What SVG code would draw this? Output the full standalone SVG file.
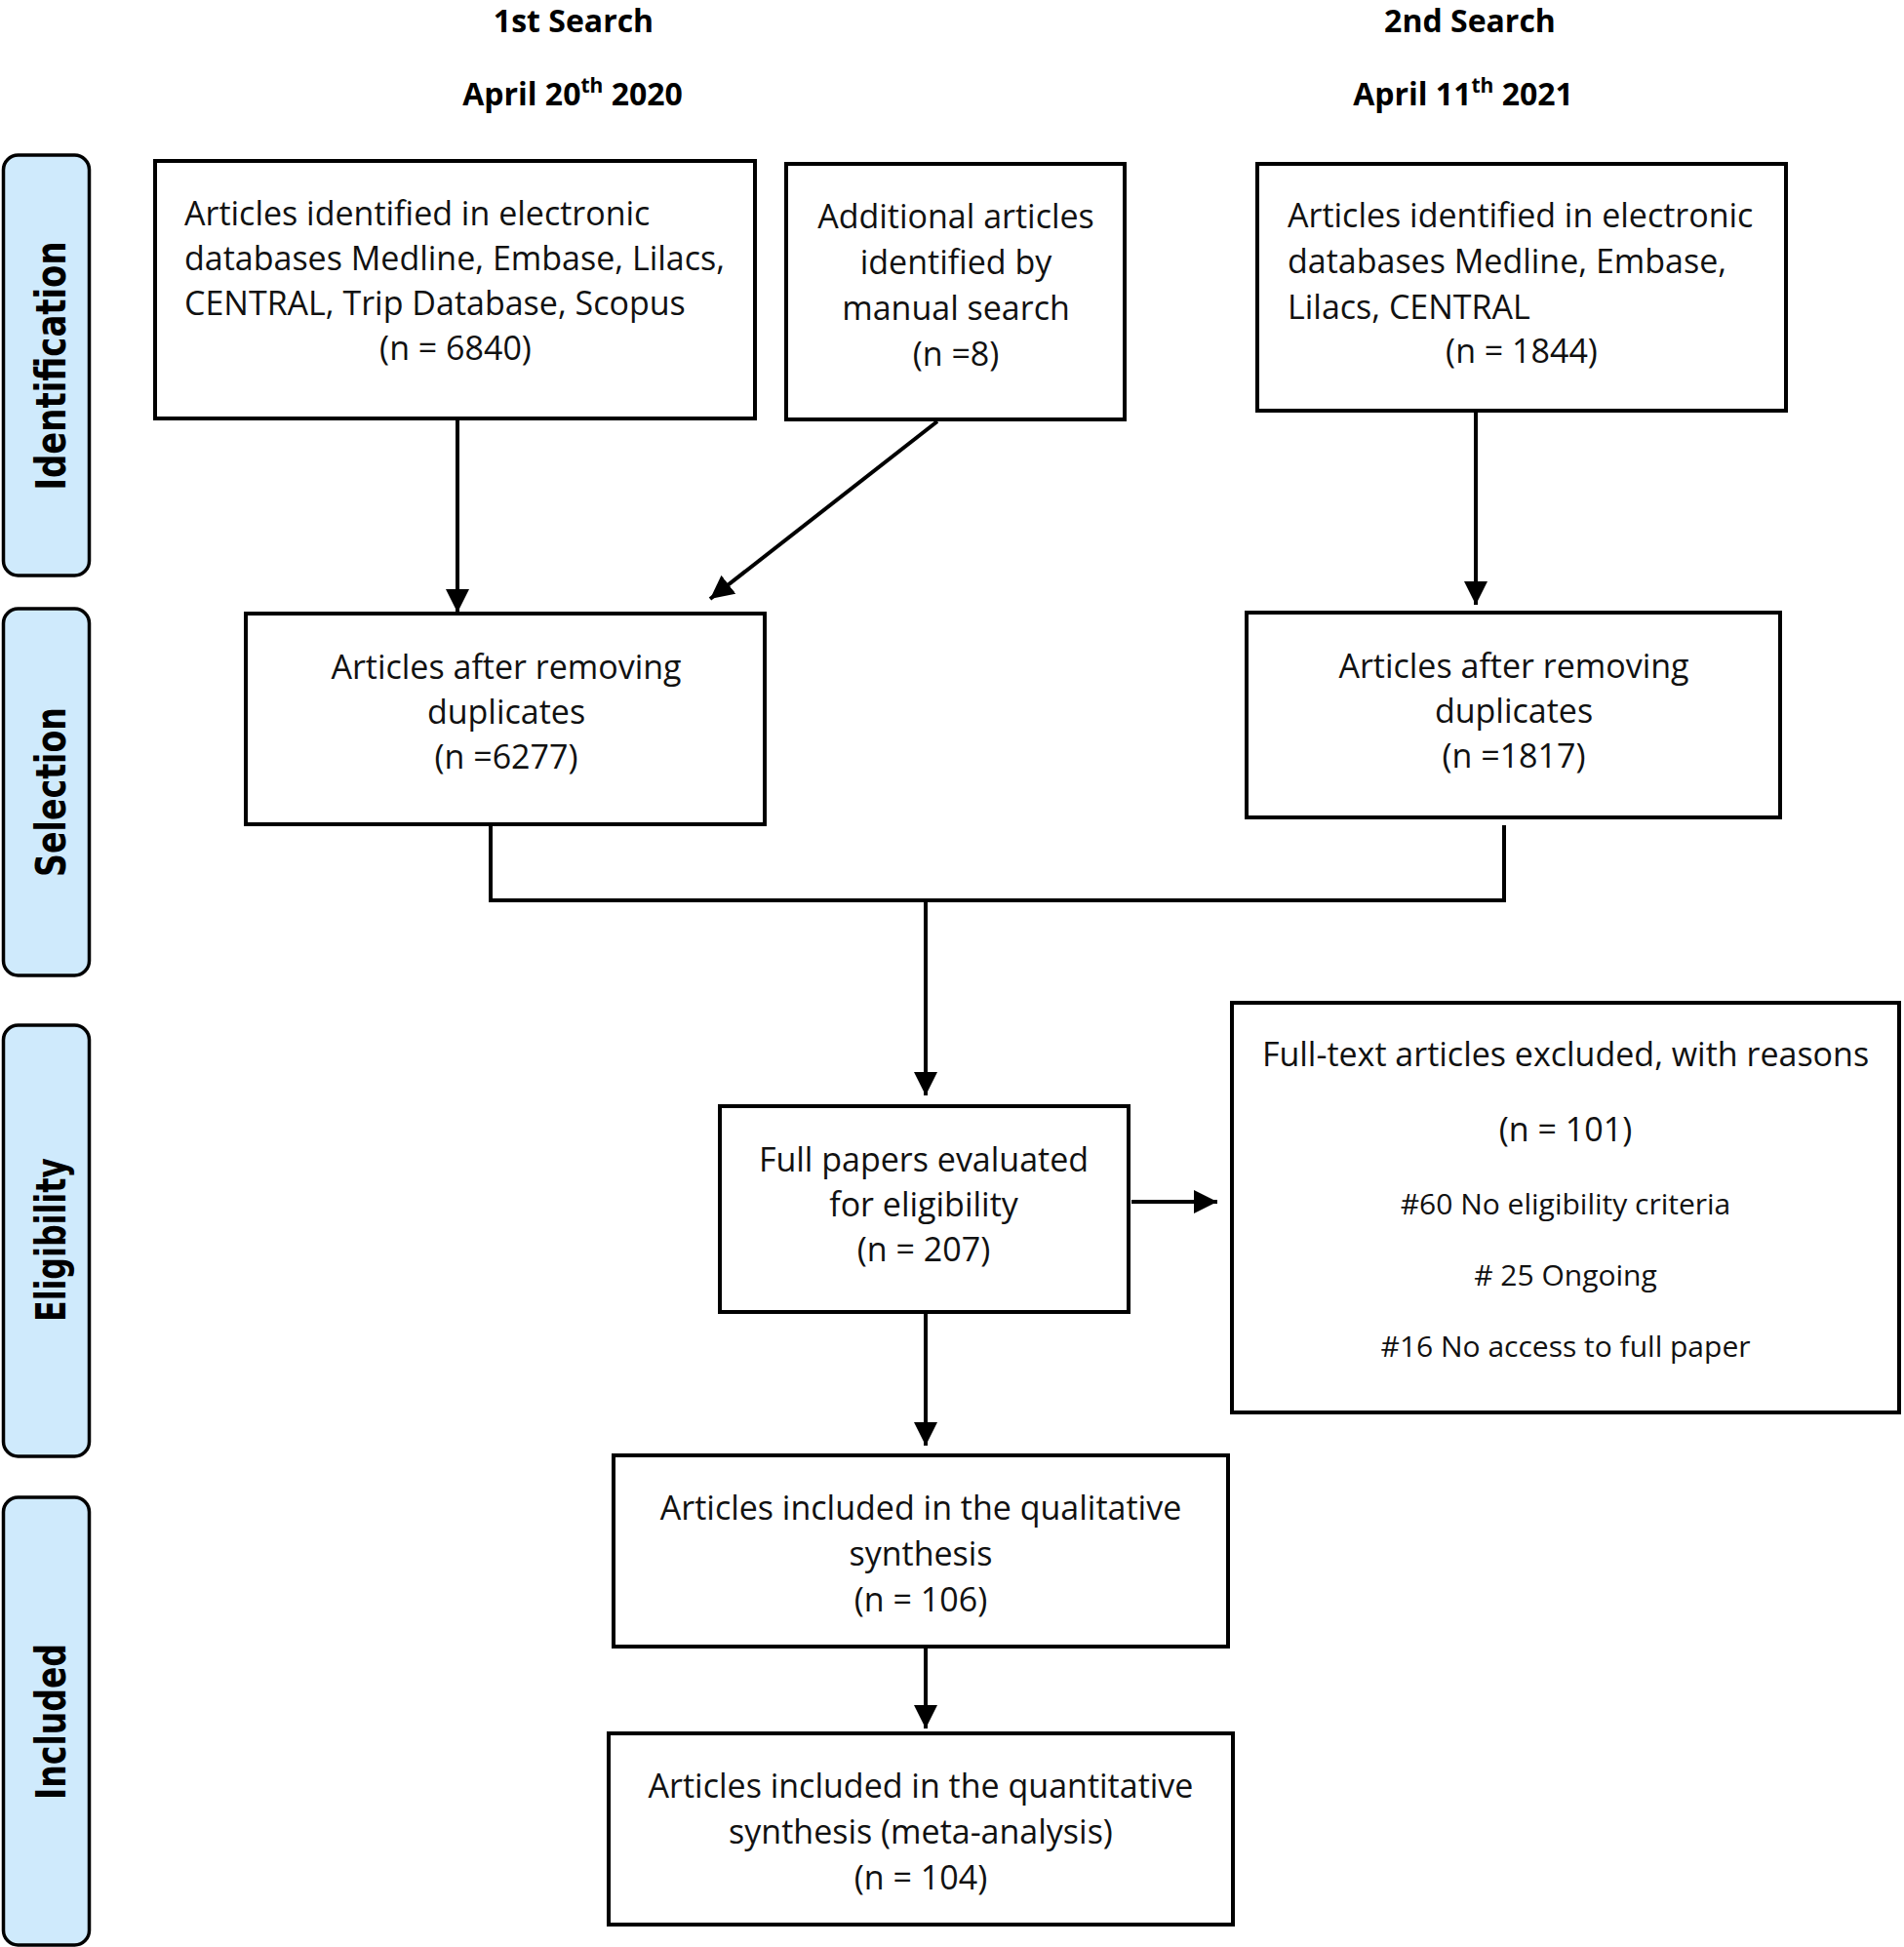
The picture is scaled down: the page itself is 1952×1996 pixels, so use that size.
<svg xmlns="http://www.w3.org/2000/svg" width="1952" height="1996" viewBox="0 0 1952 1996">
<defs>
<style>
.box{fill:#fff;stroke:#000;stroke-width:4}
.lane{fill:#cfeafc;stroke:#000;stroke-width:3.5}
.t{font-family:"Open Sans","Noto Sans",sans-serif;font-size:34px;fill:#111}
.c{text-anchor:middle}
.s{font-size:30px}
.h{font-family:"Open Sans","Noto Sans",sans-serif;font-size:32px;font-weight:bold;fill:#000;text-anchor:middle}
.lt{font-family:"DejaVu Sans",Verdana,sans-serif;font-size:42px;font-weight:bold;fill:#000;text-anchor:middle}
.con{fill:none;stroke:#000;stroke-width:4}
</style>
<marker id="ah" markerUnits="userSpaceOnUse" markerWidth="24" markerHeight="24" refX="24" refY="12" orient="auto" viewBox="0 0 24 24">
<path d="M0,0 L24,12 L0,24 z" fill="#000"/>
</marker>
</defs>
<rect width="1952" height="1996" fill="#fff"/>

<g id="headers">
<text class="h" x="588" y="33">1st Search</text>
<text class="h" x="587" y="108">April 20<tspan font-size="21" dy="-13">th</tspan><tspan dy="13"> 2020</tspan></text>
<text class="h" x="1507" y="33">2nd Search</text>
<text class="h" x="1500" y="108">April 11<tspan font-size="21" dy="-13">th</tspan><tspan dy="13"> 2021</tspan></text>
</g>

<g id="lane-identification">
<rect class="lane" x="3.5" y="159" width="88" height="431" rx="15"/>
<text class="lt" transform="translate(67,375) rotate(-90)" textLength="255" lengthAdjust="spacingAndGlyphs">Identification</text>
</g>
<g id="lane-selection">
<rect class="lane" x="3.5" y="624" width="88" height="376" rx="15"/>
<text class="lt" transform="translate(67,812) rotate(-90)" textLength="174" lengthAdjust="spacingAndGlyphs">Selection</text>
</g>
<g id="lane-eligibility">
<rect class="lane" x="3.5" y="1051" width="88" height="442" rx="15"/>
<text class="lt" transform="translate(67,1271) rotate(-90)" textLength="168" lengthAdjust="spacingAndGlyphs">Eligibility</text>
</g>
<g id="lane-included">
<rect class="lane" x="3.5" y="1535" width="88" height="459" rx="15"/>
<text class="lt" transform="translate(67,1765) rotate(-90)" textLength="160" lengthAdjust="spacingAndGlyphs">Included</text>
</g>

<g id="connectors">
<line class="con" x1="469" y1="429" x2="469" y2="628" marker-end="url(#ah)"/>
<line class="con" x1="961" y1="432" x2="728" y2="614" marker-end="url(#ah)"/>
<line class="con" x1="1513" y1="421" x2="1513" y2="620" marker-end="url(#ah)"/>
<polyline class="con" points="503,845 503,923 1542,923 1542,846"/>
<line class="con" x1="949" y1="923" x2="949" y2="1123" marker-end="url(#ah)"/>
<line class="con" x1="1160" y1="1232" x2="1248" y2="1232" marker-end="url(#ah)"/>
<line class="con" x1="949" y1="1345" x2="949" y2="1482" marker-end="url(#ah)"/>
<line class="con" x1="949" y1="1688" x2="949" y2="1772" marker-end="url(#ah)"/>
</g>

<g id="box-identified-1">
<rect class="box" x="159" y="165" width="615" height="264"/>
<text class="t" x="189" y="231">Articles identified in electronic</text>
<text class="t" x="189" y="277">databases Medline, Embase, Lilacs,</text>
<text class="t" x="189" y="323">CENTRAL, Trip Database, Scopus</text>
<text class="t c" x="467" y="369">(n = 6840)</text>
</g>

<g id="box-additional">
<rect class="box" x="806" y="168" width="347" height="262"/>
<text class="t c" x="980" y="234">Additional articles</text>
<text class="t c" x="980" y="281">identified by</text>
<text class="t c" x="980" y="328">manual search</text>
<text class="t c" x="980" y="375">(n =8)</text>
</g>

<g id="box-identified-2">
<rect class="box" x="1289" y="168" width="542" height="253"/>
<text class="t" x="1320" y="233">Articles identified in electronic</text>
<text class="t" x="1320" y="280">databases Medline, Embase,</text>
<text class="t" x="1320" y="327">Lilacs, CENTRAL</text>
<text class="t c" x="1560" y="372">(n = 1844)</text>
</g>

<g id="box-dedup-1">
<rect class="box" x="252" y="629" width="532" height="216"/>
<text class="t c" x="519" y="696">Articles after removing</text>
<text class="t c" x="519" y="742">duplicates</text>
<text class="t c" x="519" y="788">(n =6277)</text>
</g>

<g id="box-dedup-2">
<rect class="box" x="1278" y="628" width="547" height="210"/>
<text class="t c" x="1552" y="695">Articles after removing</text>
<text class="t c" x="1552" y="741">duplicates</text>
<text class="t c" x="1552" y="787">(n =1817)</text>
</g>

<g id="box-fullpapers">
<rect class="box" x="738" y="1134" width="419" height="211"/>
<text class="t c" x="947" y="1201">Full papers evaluated</text>
<text class="t c" x="947" y="1247">for eligibility</text>
<text class="t c" x="947" y="1293">(n = 207)</text>
</g>

<g id="box-excluded">
<rect class="box" x="1263" y="1028" width="684" height="420"/>
<text class="t c" x="1605" y="1093">Full-text articles excluded, with reasons</text>
<text class="t c" x="1605" y="1170">(n = 101)</text>
<text class="t c s" x="1605" y="1245">#60 No eligibility criteria</text>
<text class="t c s" x="1605" y="1318"># 25 Ongoing</text>
<text class="t c s" x="1605" y="1391">#16 No access to full paper</text>
</g>

<g id="box-qualitative">
<rect class="box" x="629" y="1492" width="630" height="196"/>
<text class="t c" x="944" y="1558">Articles included in the qualitative</text>
<text class="t c" x="944" y="1605">synthesis</text>
<text class="t c" x="944" y="1652">(n = 106)</text>
</g>

<g id="box-quantitative">
<rect class="box" x="624" y="1777" width="640" height="196"/>
<text class="t c" x="944" y="1843">Articles included in the quantitative</text>
<text class="t c" x="944" y="1890">synthesis (meta-analysis)</text>
<text class="t c" x="944" y="1937">(n = 104)</text>
</g>
</svg>
